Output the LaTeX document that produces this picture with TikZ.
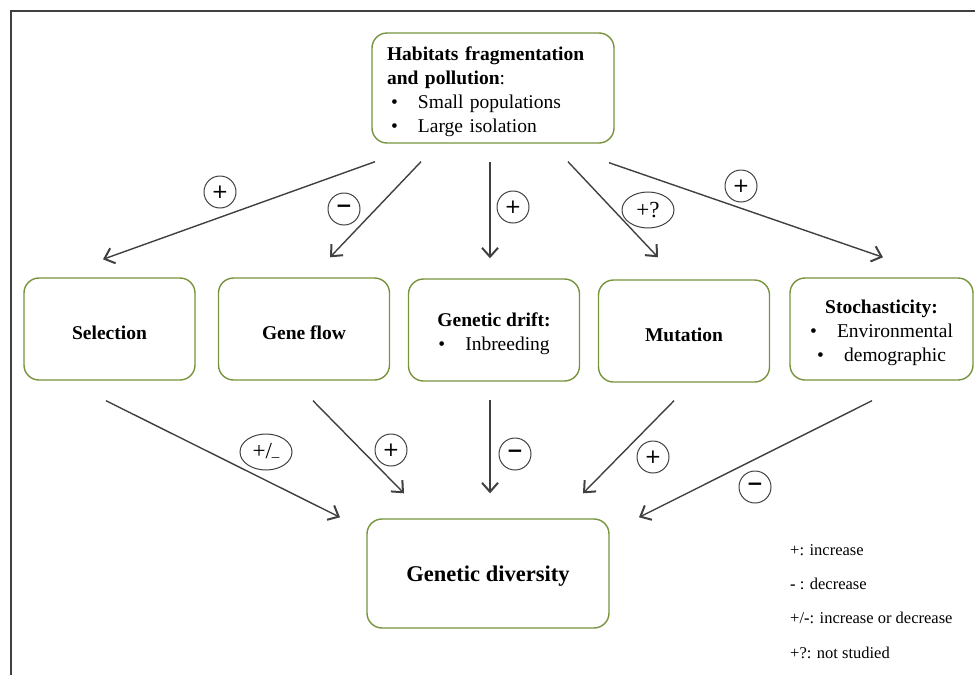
\documentclass[tikz,border=0pt]{standalone}
\usepackage{fontspec}
\setmainfont{Liberation Serif}
\newfontfamily\signfont{DejaVu Sans}
\usetikzlibrary{arrows.meta,positioning,calc,shapes.geometric}
\definecolor{cGreen}{HTML}{77933C}
\definecolor{cInk}{HTML}{404040}
\newcommand{\bul}{\makebox[27pt][l]{•}}
\newcommand{\tp}{\rule{0pt}{21pt}}
\tikzset{
  gbox/.style={draw=cGreen,rounded corners=15pt,line width=1.4pt,align=center,
    minimum width=171pt,minimum height=102pt,inner sep=4pt,font=\fontsize{19.5}{24}\selectfont},
  arr/.style={-{Straight Barb[length=9pt,width=16pt,line width=2pt]},line width=1.4pt,draw=cInk},
  sgn/.style={circle,draw=cInk,line width=1pt,minimum size=32pt,inner sep=0pt,font=\signfont\fontsize{20}{20}\selectfont},
  osgn/.style={ellipse,draw=cInk,line width=1pt,minimum width=52pt,minimum height=36pt,inner sep=0pt,font=\fontsize{23}{23}\selectfont},
  lgd/.style={anchor=west,inner sep=0pt,font=\fontsize{16.5}{18}\selectfont},
}

\begin{document}
\begin{tikzpicture}[x=1pt,y=-1pt]
  \useasboundingbox (0,0) rectangle (975,675);
  \draw[cInk,line width=1.8pt] (11,675) -- (11,11) -- (975,11);
  % cause
  \node[gbox,text width=212pt,minimum height=110pt,align=left,inner xsep=15pt,inner ysep=2pt] (hab) at (493,88)
    {\tp\textbf{Habitats fragmentation}\\\textbf{and pollution}:\\\hspace*{4pt}\bul Small populations\\\hspace*{4pt}\bul Large isolation};
  % processes
  \node[gbox] (sel) at (109.5,329) {\tp\textbf{Selection}};
  \node[gbox] (gene) at (304,329) {\tp\textbf{Gene flow}};
  \node[gbox] (drift) at (494,330) {\tp\textbf{Genetic drift:}\\\bul Inbreeding};
  \node[gbox] (mut) at (684,331) {\tp\textbf{Mutation}};
  \node[gbox,minimum width=183pt] (stoch) at (881.5,329) {\tp\textbf{Stochasticity:}\\\bul Environmental\\\bul demographic};
  % effect
  \node[gbox,minimum width=242pt,minimum height=109pt,font=\bfseries\fontsize{22.5}{26}\selectfont] (div) at (488,573.5) {\tp Genetic diversity};
  % top arrows
  \draw[arr] ([xshift=-118pt,yshift=-18pt]hab.south) -- ([xshift=-6.5pt,yshift=18pt]sel.north);
  \draw[arr] ([xshift=-72pt,yshift=-18pt]hab.south) -- ([xshift=26pt,yshift=20pt]gene.north);
  \draw[arr] ([xshift=-3pt,yshift=-18pt]hab.south) -- ([xshift=-4pt,yshift=20pt]drift.north);
  \draw[arr] ([xshift=75pt,yshift=-18pt]hab.south) -- ([xshift=-26pt,yshift=22pt]mut.north);
  \draw[arr] ([xshift=116pt,yshift=-19pt]hab.south) -- ([xshift=1.5pt,yshift=20pt]stoch.north);
  % bottom arrows
  \draw[arr] ([xshift=-3.5pt,yshift=-20pt]sel.south) -- ([xshift=-148pt,yshift=1pt]div.north);
  \draw[arr] ([xshift=9pt,yshift=-20pt]gene.south) -- ([xshift=-84pt,yshift=25pt]div.north);
  \draw[arr] ([xshift=-4pt,yshift=-18pt]drift.south) -- ([xshift=2pt,yshift=25pt]div.north);
  \draw[arr] ([xshift=-10pt,yshift=-18pt]mut.south) -- ([xshift=95pt,yshift=25pt]div.north);
  \draw[arr] ([xshift=-9.5pt,yshift=-20pt]stoch.south) -- ([xshift=151pt,yshift=1pt]div.north);
  % signs
  \node[sgn] (s1) at (220,192) {+};
  \node[sgn] (s2) at (344,209) {\textbf{−}};
  \node[sgn] (s3) at (513,207) {+};
  \node[osgn] (s4) at (648,210) {+?};
  \node[sgn] (s5) at (741,186) {+};
  \node[osgn] (b1) at (266,452) {+/\raisebox{-3pt}{\fontsize{15}{15}\selectfont –}};
  \node[sgn] (b2) at (391,450) {+};
  \node[sgn] (b3) at (515,454) {\textbf{−}};
  \node[sgn] (b4) at (653,457) {+};
  \node[sgn] (b5) at (755,487) {\textbf{−}};
  % legend
  \node[lgd] (l1) at (790,550) {+: increase};
  \node[lgd] (l2) at (790,584) {\textbf{-} : decrease};
  \node[lgd] (l3) at (790,618) {+/\textbf{-}: increase or decrease};
  \node[lgd] (l4) at (790,653) {+?: not studied};
\end{tikzpicture}
\end{document}
